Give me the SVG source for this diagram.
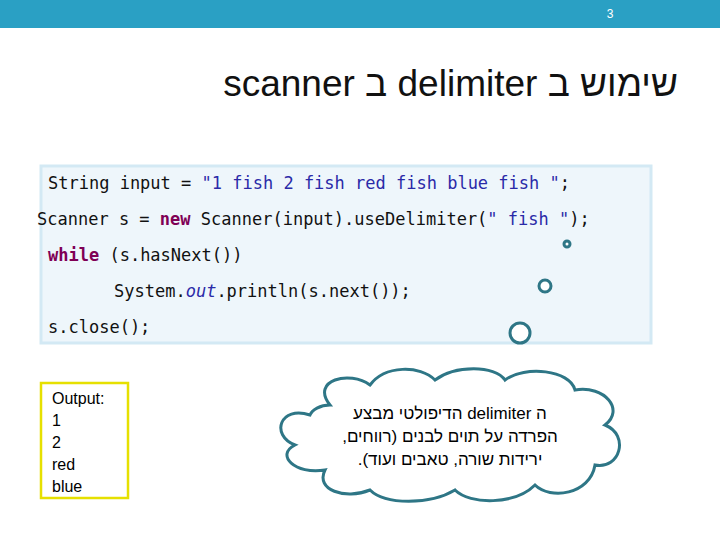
<svg xmlns="http://www.w3.org/2000/svg" width="720" height="540" viewBox="0 0 720 540">
<style>
.code{font-family:"DejaVu Sans Mono","Liberation Mono",monospace;font-size:17px;fill:#111}
.str{fill:#2a2aa8}
.kw{fill:#7f0055;font-weight:bold}
.heb{font-family:"Liberation Sans",Arial,sans-serif;font-size:17px;fill:#000}
.bub{fill:#fff;stroke:#2e7686;stroke-width:3}
</style>
<rect width="720" height="540" fill="#fff"/>
<rect x="0" y="0" width="720" height="28" fill="#2aa0c4"/>
<text x="610" y="18" font-family="Liberation Sans,sans-serif" font-size="12" fill="#fff" text-anchor="middle">3</text>
<text x="678" y="96" direction="rtl" text-anchor="start" font-family="Liberation Sans,Arial,sans-serif" font-size="37" fill="#111">שימוש ב delimiter ב scanner</text>
<g id="code">
<rect x="41" y="166" width="610" height="177" fill="#eef6fb" stroke="#d3e9f4" stroke-width="3"/>
<text class="code" x="48" y="189">String input = <tspan class="str">"1 fish 2 fish red fish blue fish "</tspan>;</text>
<text class="code" x="37" y="225">Scanner s = <tspan class="kw">new</tspan> Scanner(input).useDelimiter(<tspan class="str">" fish "</tspan>);</text>
<text class="code" x="48" y="261"><tspan class="kw">while</tspan> (s.hasNext())</text>
<text class="code" x="114" y="297">System.<tspan class="str" font-style="italic">out</tspan>.println(s.next());</text>
<text class="code" x="48" y="333">s.close();</text>
</g>
<g id="output">
<rect x="41" y="383" width="87" height="115" fill="#fff" stroke="#e6e000" stroke-width="2.5"/>
<text font-family="Liberation Sans,Arial,sans-serif" font-size="16" fill="#000">
<tspan x="52" y="404">Output:</tspan><tspan x="52" y="426">1</tspan><tspan x="52" y="448">2</tspan><tspan x="52" y="470">red</tspan><tspan x="52" y="492">blue</tspan></text>
</g>
<g id="cloud">
<circle class="bub" cx="567" cy="244" r="3"/>
<circle class="bub" cx="545" cy="286" r="6"/>
<circle class="bub" cx="520" cy="333" r="10"/>
<path class="bub" d="M330,405 C310,380 350,370 370,385 C385,365 420,365 435,380 C455,365 495,365 505,380 C525,365 570,370 575,390 C605,385 625,410 605,425 C630,435 620,470 595,465 C590,495 550,500 535,485 C515,505 470,505 455,490 C430,505 385,505 370,490 C345,500 315,490 325,470 C295,475 275,455 295,445 C270,435 280,405 310,415 C312,410 320,405 330,405 Z"/>
<text class="heb" text-anchor="middle" direction="rtl"><tspan x="450" y="419">ה delimiter הדיפולטי מבצע</tspan><tspan x="450" y="442">הפרדה על תוים לבנים (רווחים,</tspan><tspan x="450" y="465">ירידות שורה, טאבים ועוד).</tspan></text>
</g>
</svg>
